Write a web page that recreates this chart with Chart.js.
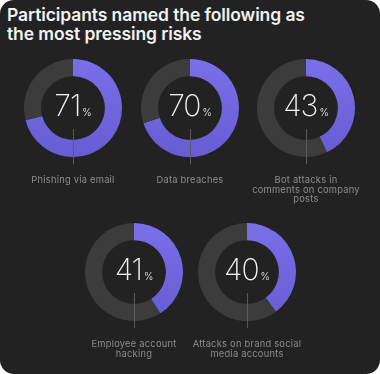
<!DOCTYPE html>
<html>
<head>
<meta charset="utf-8">
<script src="https://cdn.jsdelivr.net/npm/chart.js@4"></script>
<style>
  html, body { margin: 0; padding: 0; background: #fff; }
  .card {
    position: relative; width: 380px; height: 374px; background: #222222;
    border-radius: 14px; overflow: hidden; font-family: Inter, "Open Sans", sans-serif;
  }
  .title {
    position: absolute; left: 7px; top: 5px; color: #f2f2f2;
    font-size: 17.5px; font-weight: 600; line-height: 19px; letter-spacing: -0.1px;
  }
  .item { position: absolute; width: 98px; height: 98px; }
  .item canvas { position: absolute; left: 0; top: 0; }
  .num {
    position: absolute; left: 0; width: 98px; top: 31px; text-align: center;
    color: #f4f4f4; font-size: 30px; font-weight: 200; line-height: 30px; letter-spacing: -1px;
  }
  .num span { font-size: 10px; font-weight: 300; letter-spacing: 0; margin-left: 2px; }
  .stem { position: absolute; left: 48.5px; top: 70px; width: 1px; height: 35px; background: #5a5a5a; }
  .label {
    position: absolute; left: -31px; width: 160px; top: 116px; text-align: center;
    color: #8d8d8d; font-size: 9.3px; line-height: 9.5px; letter-spacing: 0.25px;
  }
</style>
</head>
<body>
<div class="card" id="card">
  <div class="title">Participants named the following as<br>the most pressing risks</div>
</div>
<script>
// Данные
const categories = [
  'Phishing via email',
  'Data breaches',
  'Bot attacks in<br>comments on company<br>posts',
  'Employee account<br>hacking',
  'Attacks on brand social<br>media accounts'
];
const values = [71, 70, 43, 41, 40];
const centers = [[73, 108], [190, 108], [306, 108], [134, 272], [247, 272]];

const card = document.getElementById('card');

values.forEach((v, i) => {
  const box = document.createElement('div');
  box.className = 'item';
  box.style.left = (centers[i][0] - 49) + 'px';
  box.style.top = (centers[i][1] - 49) + 'px';
  box.innerHTML = `
    <canvas width="98" height="98"></canvas>
    <div class="num">${v}<span>%</span></div>
    <div class="stem"></div>
    <div class="label">${categories[i]}</div>
  `;
  card.appendChild(box);

  const ctx = box.querySelector('canvas').getContext('2d');
  const grad = ctx.createLinearGradient(0, 0, 0, 98);
  grad.addColorStop(0, '#7a6fe9');
  grad.addColorStop(1, '#675cd2');

  new Chart(ctx, {
    type: 'doughnut',
    data: {
      labels: ['yes', 'rest'],
      datasets: [{
        data: [v, 100 - v],
        backgroundColor: [grad, '#3c3c3c'],
        borderWidth: 0
      }]
    },
    options: {
      responsive: false,
      animation: false,
      cutout: '65%',
      plugins: { legend: { display: false }, tooltip: { enabled: false } }
    }
  });
});
</script>
</body>
</html>
